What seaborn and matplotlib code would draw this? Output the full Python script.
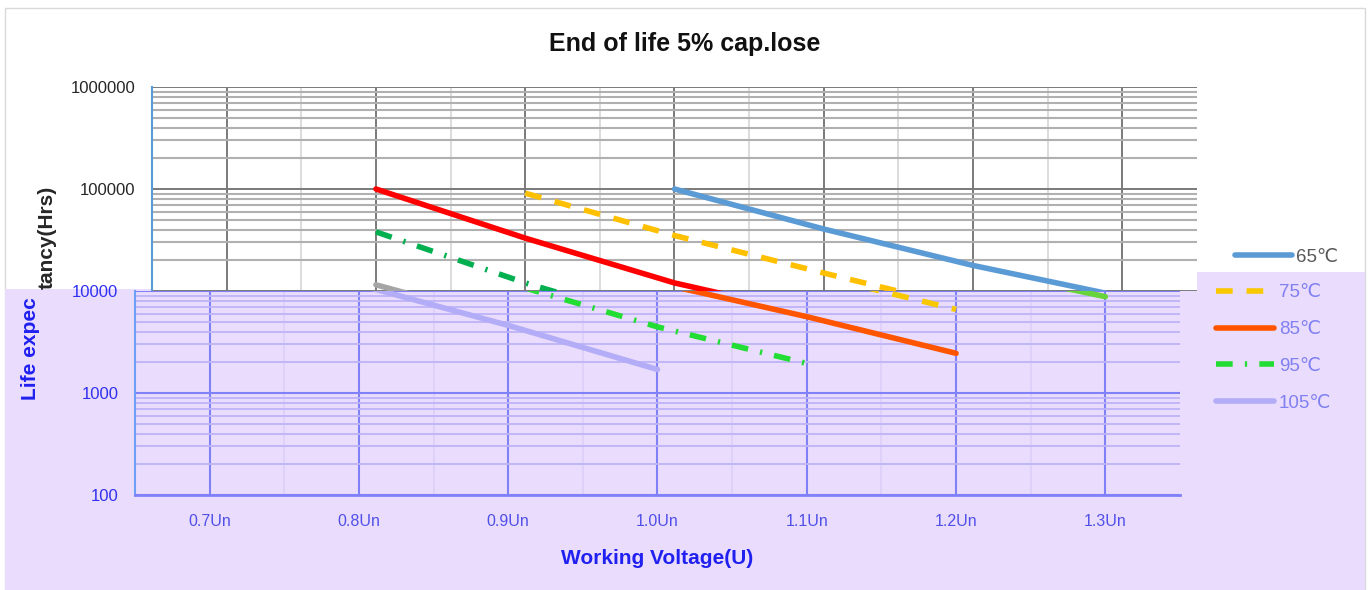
import pandas as pd
import seaborn as sns
import matplotlib.pyplot as plt
from matplotlib.patches import Rectangle
from matplotlib.ticker import FixedLocator, NullFormatter

# data
temps = ['65℃', '75℃', '85℃', '95℃', '105℃']
volt_65 = [1.0, 1.1, 1.2, 1.3]
life_65 = [100000, 40500, 17800, 8800]
volt_75 = [0.9, 1.0, 1.1, 1.2]
life_75 = [91000, 35000, 15000, 6600]
volt_85 = [0.8, 0.9, 1.0, 1.1, 1.2]
life_85 = [100000, 33000, 12000, 5600, 2450]
volt_95 = [0.8, 0.9, 1.0, 1.1]
life_95 = [38000, 12000, 4450, 1950]
volt_105 = [0.8, 0.9, 1.0]
life_105 = [11500, 4600, 1700]

xticks = [0.7, 0.8, 0.9, 1.0, 1.1, 1.2, 1.3]
xtick_labels = ['0.7Un', '0.8Un', '0.9Un', '1.0Un', '1.1Un', '1.2Un', '1.3Un']
xminor = [0.75, 0.85, 0.95, 1.05, 1.15, 1.25]

volts = [volt_65, volt_75, volt_85, volt_95, volt_105]
lives = [life_65, life_75, life_85, life_95, life_105]
df = pd.DataFrame([(t, v, l) for t, vs, ls in zip(temps, volts, lives) for v, l in zip(vs, ls)],
                  columns=['temp', 'volt', 'life'])

sns.set_style('white')
plt.rcParams['font.family'] = ['Liberation Sans', 'DejaVu Sans']

W, H = 1370, 590
fig = plt.figure(figsize=(13.7, 5.9), dpi=100)

top_pal = dict(zip(temps, ['#5B9BD5', '#FFC000', '#FF0000', '#00B050', '#A5A5A5']))
bot_pal = dict(zip(temps, ['#66D43A', '#F8C800', '#FF5500', '#22DD33', '#B3ACF7']))
dash_map = dict(zip(temps, ['', (3, 2.5), '', (3, 2.2, 0.4, 2.2), '']))
LW = 4

# frame + lavender wash over the lower half
fig.add_artist(Rectangle((5 / W, 0), 1360 / W, 582 / H, transform=fig.transFigure,
                         fill=False, edgecolor='#D9D9D9', lw=1, zorder=0))
fig.add_artist(Rectangle((5 / W, 0), 1360 / W, 301 / H, transform=fig.transFigure,
                         facecolor='#E9DCFC', edgecolor='none', zorder=0.5))
fig.add_artist(Rectangle((1130 / W, 1 - 289 / H), 235 / W, 17 / H, transform=fig.transFigure,
                         facecolor='#E9DCFC', edgecolor='none', zorder=0.5))

# upper part of the chart (10^4 .. 10^6)
ax_top = fig.add_axes([152 / W, 1 - 291 / H, 1045 / W, 204 / H], zorder=1)
sns.lineplot(data=df, x='volt', y='life', hue='temp', style='temp', palette=top_pal,
             dashes=dash_map, lw=LW, ax=ax_top)
h_top, l_top = ax_top.get_legend_handles_labels()
ax_top.get_legend().remove()
ax_top.set_yscale('log')
ax_top.set_ylim(1e4, 1e6)
ax_top.set_xlim(0.65, 1.35)
ax_top.set_xticks(xticks, labels=[''] * len(xticks))
ax_top.xaxis.set_minor_locator(FixedLocator(xminor))
ax_top.set_yticks([1e4, 1e5, 1e6], labels=['', '100000', '1000000'])
ax_top.yaxis.set_minor_formatter(NullFormatter())
ax_top.grid(True, which='major', axis='both', color='#7A7A7A', lw=1.4)
ax_top.grid(True, which='minor', axis='x', color='#D9D9D9', lw=1.3)
ax_top.grid(True, which='minor', axis='y', color='#B0B0B0', lw=1.5)
ax_top.tick_params(which='both', length=0, labelsize=12, labelcolor='#262626', pad=12)
ax_top.set_xlabel('')
ax_top.set_ylabel('')
for s in ['top', 'right', 'bottom']:
    ax_top.spines[s].set_visible(False)
ax_top.spines['left'].set_color('#5B9BD5')
ax_top.spines['left'].set_linewidth(1.5)

# lower part of the chart (10^2 .. 10^4), slightly offset
ax_bot = fig.add_axes([135 / W, 1 - 495 / H, 1045 / W, 204 / H], zorder=2)
ax_bot.set_facecolor('none')
sns.lineplot(data=df, x='volt', y='life', hue='temp', style='temp', palette=bot_pal,
             dashes=dash_map, lw=LW, ax=ax_bot)
h_bot, l_bot = ax_bot.get_legend_handles_labels()
ax_bot.get_legend().remove()
ax_bot.set_yscale('log')
ax_bot.set_ylim(100, 1e4)
ax_bot.set_xlim(0.65, 1.35)
ax_bot.set_xticks(xticks, labels=xtick_labels)
ax_bot.xaxis.set_minor_locator(FixedLocator(xminor))
ax_bot.set_yticks([100, 1000, 10000], labels=['100', '1000', '10000'])
ax_bot.yaxis.set_minor_formatter(NullFormatter())
ax_bot.grid(True, which='major', axis='both', color='#8080F8', lw=1.5)
ax_bot.grid(True, which='minor', axis='x', color='#DCD0FA', lw=1.3)
ax_bot.grid(True, which='minor', axis='y', color='#BDB4F8', lw=1.3)
ax_bot.tick_params(which='both', length=0)
ax_bot.tick_params(axis='y', labelsize=12, labelcolor='#3030F0', pad=12)
ax_bot.tick_params(axis='x', labelsize=11.5, labelcolor='#5050E8', pad=14)
ax_bot.set_ylabel('')
ax_bot.set_xlabel('Working Voltage(U)', fontsize=15, fontweight='bold', color='#2020F0', labelpad=14)
for s in ['top', 'right']:
    ax_bot.spines[s].set_visible(False)
ax_bot.spines['left'].set_color('#6EA0F5')
ax_bot.spines['left'].set_linewidth(1.5)
ax_bot.spines['bottom'].set_color('#8080F8')
ax_bot.spines['bottom'].set_linewidth(2)

# title and split y label
fig.text(685 / W, 1 - 44 / H, 'End of life 5% cap.lose', ha='center', va='center',
         fontsize=18, fontweight='bold', color='#111111')
fig.text(30 / W, 1 - 400 / H, 'Life expec', rotation=90, ha='center', va='bottom',
         fontsize=15, fontweight='bold', color='#2020F0')
fig.text(47 / W, 1 - 289 / H, 'tancy(Hrs)', rotation=90, ha='center', va='bottom',
         fontsize=15, fontweight='bold', color='#262626')

# legends
leg1 = fig.legend(handles=h_top[:1], labels=l_top[:1], loc='center left',
                  bbox_to_anchor=(1235 / W, 1 - 257 / H), frameon=False, fontsize=13.5,
                  handlelength=3.05, handletextpad=0.2, borderpad=0, borderaxespad=0)
for t in leg1.get_texts():
    t.set_color('#595959')
leg2 = fig.legend(handles=h_bot[1:], labels=l_bot[1:], loc='center left',
                  bbox_to_anchor=(1216 / W, 1 - 348 / H), frameon=False, fontsize=13.5,
                  handlelength=3.1, handletextpad=0.25, borderpad=0, borderaxespad=0,
                  labelspacing=1.05)
for t in leg2.get_texts():
    t.set_color('#8080F0')

fig.savefig('out.png', dpi=100)
